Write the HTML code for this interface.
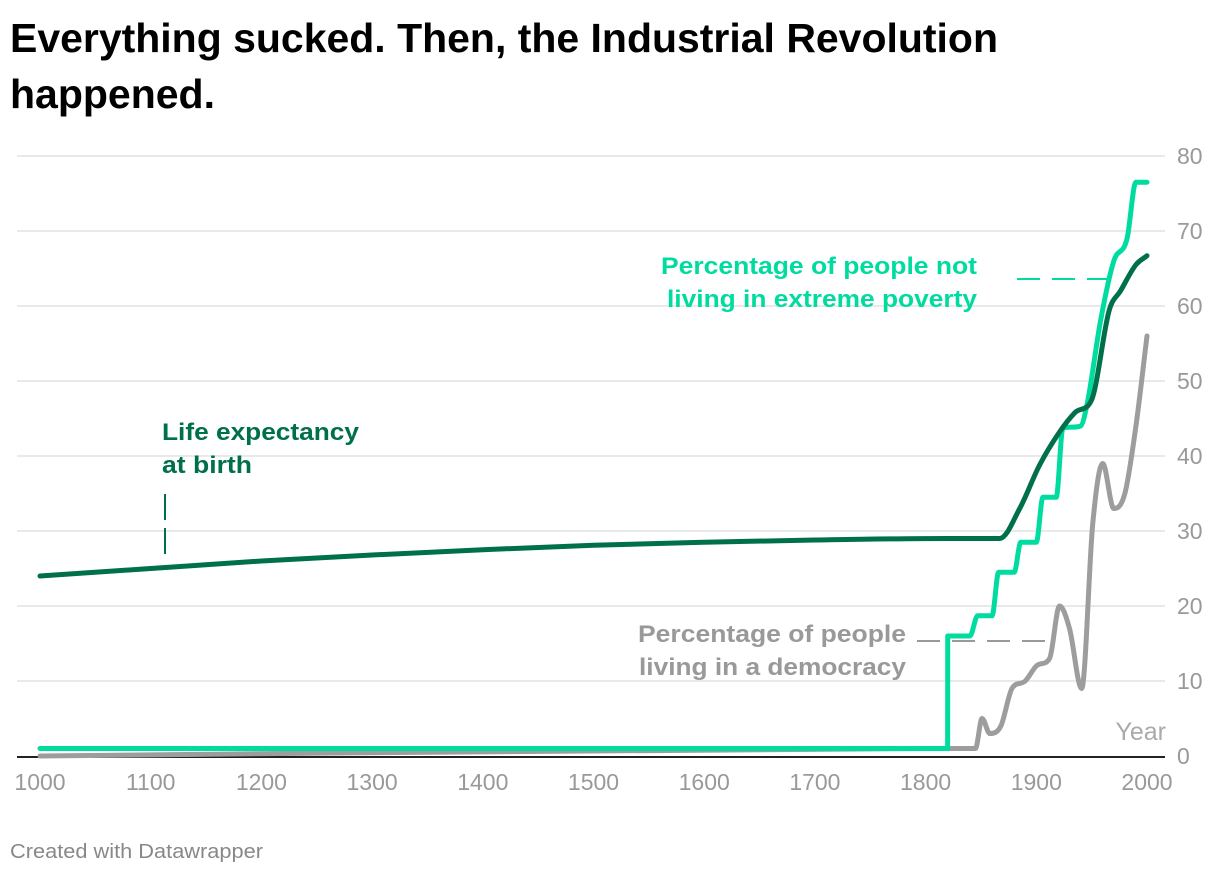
<!DOCTYPE html>
<html><head><meta charset="utf-8"><style>
body{margin:0;background:#fff;width:1220px;height:874px;overflow:hidden}
svg{display:block;font-family:"Liberation Sans",sans-serif}
</style></head><body>
<svg id="chart" width="1220" height="874">
<text x="10" y="52" font-size="41" font-weight="bold" fill="#000" textLength="988" lengthAdjust="spacingAndGlyphs">Everything sucked. Then, the Industrial Revolution</text>
<text x="10" y="108" font-size="41" font-weight="bold" fill="#000" textLength="205" lengthAdjust="spacingAndGlyphs">happened.</text>
<g id="grid"></g>
<g id="series"></g>
<g id="annot">
<text x="162" y="440" font-size="24" font-weight="bold" fill="#00704a" textLength="197" lengthAdjust="spacingAndGlyphs">Life expectancy</text>
<text x="162" y="473" font-size="24" font-weight="bold" fill="#00704a" textLength="90" lengthAdjust="spacingAndGlyphs">at birth</text>
<line x1="165" y1="494" x2="165" y2="556" stroke="#00704a" stroke-width="2" stroke-dasharray="26,8"/>
<text x="977" y="274" font-size="24" font-weight="bold" fill="#00dca0" text-anchor="end" textLength="316" lengthAdjust="spacingAndGlyphs">Percentage of people not</text>
<text x="977" y="307" font-size="24" font-weight="bold" fill="#00dca0" text-anchor="end" textLength="310" lengthAdjust="spacingAndGlyphs">living in extreme poverty</text>
<line x1="1017" y1="279" x2="1110" y2="279" stroke="#00dca0" stroke-width="2" stroke-dasharray="23,12"/>
<text x="906" y="642" font-size="24" font-weight="bold" fill="#999" text-anchor="end" textLength="268" lengthAdjust="spacingAndGlyphs">Percentage of people</text>
<text x="906" y="675" font-size="24" font-weight="bold" fill="#999" text-anchor="end" textLength="267" lengthAdjust="spacingAndGlyphs">living in a democracy</text>
<line x1="917" y1="641" x2="1050" y2="641" stroke="#999" stroke-width="2" stroke-dasharray="23,12"/>
<text x="1166" y="740" font-size="25" fill="#aaa" text-anchor="end">Year</text>
</g>
<text x="10" y="858" font-size="20" fill="#888" textLength="253" lengthAdjust="spacingAndGlyphs">Created with Datawrapper</text>
</svg>
<script>
const yTicks=[0,10,20,30,40,50,60,70,80];
const xTicks=[1000,1100,1200,1300,1400,1500,1600,1700,1800,1900,2000];
const lifeYears=[1000,1100,1200,1300,1400,1500,1600,1700,1820,1867,1885,1903,1921,1935,1950,1966,1976,1990,2000];
const lifeValues=[24,25,26,26.8,27.5,28.1,28.5,28.8,29,29,33,38.8,43.2,45.8,47.5,59.5,62,65.5,66.7];
const povYears=[1000,1819.9,1820,1840,1847,1860,1866,1880,1886,1900,1906,1918,1924,1940,1946,1958,1970,1982,1990,2000];
const povValues=[1,1,16,16,18.7,18.7,24.5,24.5,28.5,28.5,34.5,34.5,43.7,44,47,58,66,69,76.5,76.5];
const demYears=[1000,1800,1845,1851,1858,1868,1878,1890,1900,1912,1921,1930,1941,1951,1960,1970,1980,1990,2000];
const demValues=[0,1,1,5,3,4,9,10,12,13,20,17,9,31,39,33,35,44,56];

const X=y=>40+(y-1000)*1.107, Y=v=>756-v*7.5;
const NS="http://www.w3.org/2000/svg";
const grid=document.getElementById('grid'), ser=document.getElementById('series');
function mk(t,a,p){const e=document.createElementNS(NS,t);for(const k in a)e.setAttribute(k,a[k]);p.appendChild(e);return e;}
yTicks.forEach(v=>{
  if(v>0){const l=mk('line',{x1:17,x2:1165,y1:Y(v),y2:Y(v),stroke:'#e2e2e2','stroke-width':1.5},grid);
  
  }
  const t=mk('text',{x:1177,y:Y(v)+8,'font-size':23,fill:'#999'},grid);t.textContent=v;
  
  
});
const base=mk('line',{x1:17,x2:1165,y1:757,y2:757,stroke:'#222','stroke-width':2},grid);


xTicks.forEach(v=>{
  const t=mk('text',{x:X(v),y:790,'font-size':23,fill:'#999','text-anchor':'middle'},grid);t.textContent=v;
  
  
});
function monotone(xs,ys){
  const n=xs.length,d=[],m=[];
  for(let i=0;i<n-1;i++)d.push((ys[i+1]-ys[i])/(xs[i+1]-xs[i]));
  m[0]=d[0];m[n-1]=d[n-2];
  for(let i=1;i<n-1;i++){m[i]=(d[i-1]*d[i]<=0)?0:(d[i-1]+d[i])/2;
    const a=m[i]/d[i-1],b=m[i]/d[i];const s=a*a+b*b;if(s>9){const t=3/Math.sqrt(s);m[i]=t*m[i];}}
  for(let i=0;i<n-1;i++){if(d[i]===0){m[i]=0;m[i+1]=0;}}
  let p='M'+xs[0]+','+ys[0];
  for(let i=0;i<n-1;i++){const h=(xs[i+1]-xs[i])/3;
    p+=' C'+(xs[i]+h)+','+(ys[i]+m[i]*h)+' '+(xs[i+1]-h)+','+(ys[i+1]-m[i+1]*h)+' '+xs[i+1]+','+ys[i+1];}
  return p;
}
function draw(yrs,vals,color,name){
  const p=mk('path',{d:monotone(yrs.map(X),vals.map(Y)),fill:'none',stroke:color,'stroke-width':5,'stroke-linejoin':'round','stroke-linecap':'round'},ser);
  
  
}
draw(demYears,demValues,'#9d9d9d','democracy-line');
draw(povYears,povValues,'#00dca0','poverty-line');
draw(lifeYears,lifeValues,'#00704a','life-expectancy-line');
</script>
</body></html>
